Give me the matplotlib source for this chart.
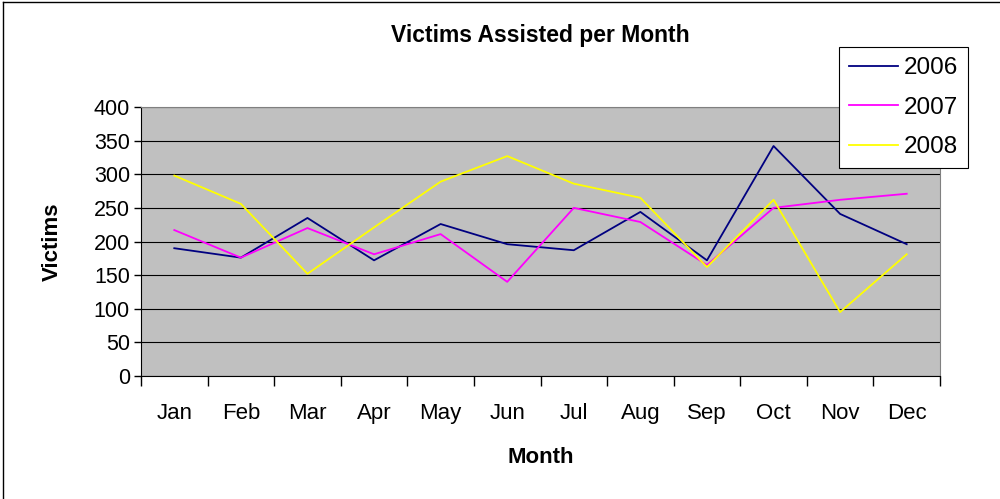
import numpy as np
import matplotlib
matplotlib.use("Agg")
import matplotlib.pyplot as plt
from matplotlib.lines import Line2D

plt.rcParams['font.family'] = ['Liberation Sans', 'DejaVu Sans']

months = ['Jan', 'Feb', 'Mar', 'Apr', 'May', 'Jun',
          'Jul', 'Aug', 'Sep', 'Oct', 'Nov', 'Dec']
v2006 = [190, 176, 235, 172, 226, 196, 187, 244, 172, 342, 241, 196]
v2007 = [217, 176, 220, 181, 211, 140, 250, 229, 165, 250, 262, 271]
v2008 = [298, 256, 152, 221, 289, 327, 286, 265, 162, 262, 95, 181]

fig = plt.figure(figsize=(10, 4.99), dpi=100)
ax = fig.add_axes([0.141, 1 - 376 / 499, 0.799, 269 / 499])

x = np.arange(len(months))
ax.set_facecolor('#C0C0C0')
ax.plot(x, v2006, color='#000080', lw=1.3, label='2006')
ax.plot(x, v2007, color='#FF00FF', lw=1.3, label='2007')
ax.plot(x, v2008, color='#FFFF00', lw=1.3, label='2008')

ax.set_xlim(-0.5, 11.5)
ax.set_ylim(0, 400)
ax.set_yticks(np.arange(0, 401, 50))
ax.yaxis.grid(True, color='#000000', lw=0.8)
ax.set_axisbelow(True)

# ticks between categories, labels at the centres
ax.set_xticks(np.arange(-0.5, 12, 1))
ax.set_xticklabels([])
ax.set_xticks(x, minor=True)
ax.set_xticklabels(months, minor=True)
ax.tick_params(axis='x', which='major', length=7, width=1, color='#000000', direction='out')
ax.tick_params(axis='x', which='minor', length=0, pad=19.5, labelsize=16)
ax.tick_params(axis='y', length=5, width=1, direction='out', labelsize=15.5, pad=3)

for s in ['top', 'right']:
    ax.spines[s].set_color('#808080')
for s in ['left', 'bottom']:
    ax.spines[s].set_color('#000000')

ax.set_title('Victims Assisted per Month', fontsize=16.5, fontweight='bold', pad=47)
ax.set_xlabel('Month', fontsize=16, fontweight='bold', labelpad=16.5)
ax.set_ylabel('Victims', fontsize=16, fontweight='bold', labelpad=22)

leg = ax.legend(loc='upper left', bbox_to_anchor=(0.8736, 1.223), fontsize=17.5,
                frameon=True, fancybox=False, handlelength=2.0, labelspacing=0.72,
                borderpad=0.42, handletextpad=0.25, borderaxespad=0)
leg.get_frame().set_edgecolor('#000000')
leg.get_frame().set_linewidth(0.8)
leg.get_frame().set_facecolor('white')
leg.get_frame().set_alpha(1)

# outer chart frame (only top and left edges fall inside the picture)
fig.add_artist(Line2D([0.003, 0.003], [0.0, 0.995], transform=fig.transFigure, color='#000000', lw=1))
fig.add_artist(Line2D([0.003, 1.0], [0.995, 0.995], transform=fig.transFigure, color='#000000', lw=1))

fig.savefig('out.png', dpi=100)
